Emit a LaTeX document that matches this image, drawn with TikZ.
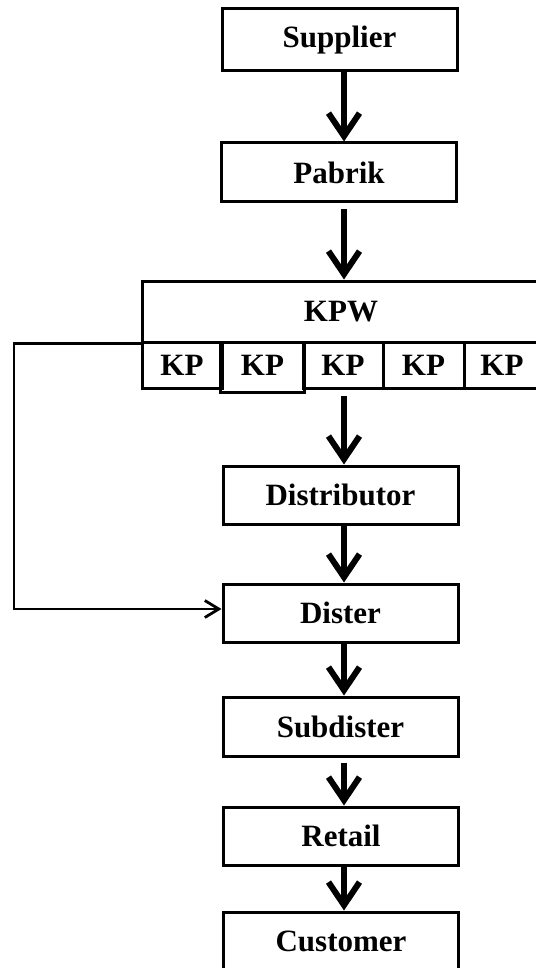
\documentclass[tikz,border=0pt]{standalone}
\usepackage{fontspec}
\setmainfont{Liberation Serif}
\usetikzlibrary{arrows.meta}
\begin{document}
\begin{tikzpicture}[x=1pt,y=-1pt,
  box/.style={draw, line width=3pt, inner sep=0pt,
    font=\fontsize{31}{36}\selectfont\bfseries},
  wide/.style={minimum width=235pt},
  flow/.style={line width=5.5pt,
    -{Straight Barb[length=23pt,width=31pt,line width=6pt]}},
  back/.style={line width=2.8pt,
    -{Straight Barb[length=14pt,width=17pt,line width=2.8pt]}}]
\useasboundingbox (0,0) rectangle (535,968);
\fill[white] (0,0) rectangle (535,968);

% main chain
\node[box, wide, minimum height=62pt] (sup) at (339.5,40) {Supplier};
\node[box, wide, minimum height=59pt] (pab) at (339,172.5) {Pabrik};

% warehouse block with its points
\node[box, minimum width=398pt, minimum height=61pt] (kpw) at (341,311.5) {KPW};
\node[box, minimum width=80pt, minimum height=46pt] (kp1) at (182,365) {KP};
\node[box, minimum width=80pt, minimum height=46pt] (kp3) at (343,365) {KP};
\node[box, minimum width=81pt, minimum height=46pt] (kp4) at (423.5,365) {KP};
\node[box, minimum width=76pt, minimum height=46pt] (kp5) at (502,365) {KP};
% second point: frame set slightly lower than its neighbours
\node[box, draw=none, minimum width=81pt, minimum height=47pt] (kp2) at (262.5,365) {KP};
\draw[line width=3pt] ([yshift=-2.5pt]kp2.south west) rectangle ([yshift=-2.5pt]kp2.north east);

\node[box, wide, minimum height=58pt] (dis) at (340.5,495) {Distributor};
\node[box, wide, minimum height=58pt] (dst) at (340.5,613) {Dister};
\node[box, wide, minimum height=59pt] (sub) at (340.5,726.5) {Subdister};
\node[box, wide, minimum height=58pt] (ret) at (341,836) {Retail};
\node[box, wide, minimum height=58pt] (cus) at (341,941) {Customer};

% connectors
\coordinate (col) at (344,0);
\coordinate (loopx) at (14,0);
\draw[flow] (sup.south -| col) -- (pab.north -| col);
\draw[flow, shorten <=6pt] (pab.south -| col) -- (kpw.north -| col);
\draw[flow, shorten <=6pt] (kp3.south -| col) -- (dis.north -| col);
\draw[flow] (dis.south -| col) -- (dst.north -| col);
\draw[flow] (dst.south -| col) -- (sub.north -| col);
\draw[flow, shorten <=5pt] (sub.south -| col) -- (ret.north -| col);
\draw[flow] (ret.south -| col) -- (cus.north -| col);

% direct route from the warehouse to the dister
\draw[back] (kpw.south west) -- (kpw.south west -| loopx)
  |- ([yshift=4pt]dst.west);
\end{tikzpicture}
\end{document}
